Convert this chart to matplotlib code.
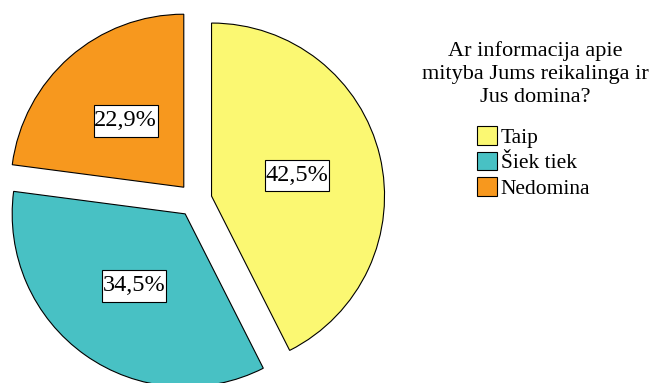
import matplotlib.pyplot as plt
from matplotlib.path import Path

plt.rcParams['font.family'] = ['Liberation Serif', 'DejaVu Serif']

# Atsakymu pasiskirstymas (%)
labels = ['Taip', 'Šiek tiek', 'Nedomina']
values = [42.5, 34.5, 22.9]
colors = ['#FBF872', '#48C1C4', '#F7981E']
title = 'Ar informacija apie\nmityba Jums reikalinga ir\nJus domina?'

W, H = 653, 383
fig = plt.figure(figsize=(W / 100, H / 100), dpi=100)
ax = fig.add_axes([0, 0, 1, 1])


def narrow_box(x0, y0, width, height, mutation_size):
    # rectangle with small side padding and larger top/bottom padding
    px, py = 0.02 * mutation_size, 0.22 * mutation_size
    x0, y0 = x0 - px, y0 - py
    x1, y1 = x0 + width + 2 * px, y0 + height + 2 * py
    return Path([(x0, y0), (x1, y0), (x1, y1), (x0, y1), (x0, y0)],
                closed=True)


# pie in pixel coordinates (y up)
wedges, texts, autotexts = ax.pie(
    values, colors=colors, startangle=90, counterclock=False,
    center=(195, H - 200), radius=173, explode=[17, 17, 17],
    autopct='%1.1f%%', pctdistance=0.51,
    wedgeprops=dict(edgecolor='black', linewidth=0.8),
    textprops=dict(fontsize=17.5, color='black'))

for t, v in zip(autotexts, values):
    t.set_text('{:.1f}%'.format(v).replace('.', ','))
    t.set_bbox(dict(boxstyle=narrow_box, facecolor='white',
                    edgecolor='black', linewidth=0.8))

ax.set_xlim(0, W)
ax.set_ylim(0, H)
ax.set_aspect('auto')
ax.axis('off')

ax.text(535, H - 41, title, ha='center', va='top', multialignment='center',
        fontsize=16, linespacing=1.28)

leg = ax.legend(wedges, labels, loc='upper left',
                bbox_to_anchor=(477, H - 126), bbox_transform=ax.transData,
                frameon=False, fontsize=15.5,
                handlelength=0.95, handleheight=0.95, handletextpad=0.15,
                labelspacing=0.18, borderpad=0, borderaxespad=0)

plt.savefig('out.png', dpi=100)
